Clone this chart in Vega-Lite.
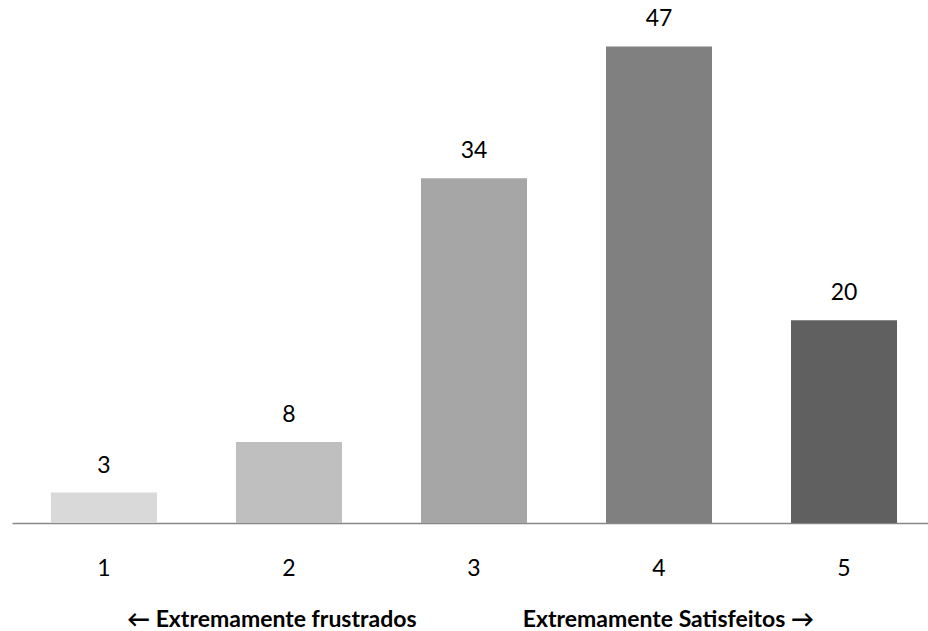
{
  "$schema": "https://vega.github.io/schema/vega-lite/v6.json",
  "autosize": "none",
  "width": 916,
  "height": 507,
  "padding": {"left": 12, "top": 16, "right": 0, "bottom": 108},
  "background": "white",
  "config": {
    "view": {"stroke": null},
    "font": "Lato"
  },
  "data": {
    "values": [
      {"nota": "1", "respostas": 3},
      {"nota": "2", "respostas": 8},
      {"nota": "3", "respostas": 34},
      {"nota": "4", "respostas": 47},
      {"nota": "5", "respostas": 20}
    ]
  },
  "encoding": {
    "x": {
      "field": "nota",
      "type": "nominal",
      "sort": null,
      "scale": {"paddingInner": 0.427, "paddingOuter": 0.189, "align": 0.557},
      "axis": {
        "title": "← Extremamente frustrados\u00a0\u00a0\u00a0\u00a0\u00a0\u00a0\u00a0\u00a0\u00a0\u00a0\u00a0\u00a0\u00a0\u00a0\u00a0\u00a0\u00a0\u00a0\u00a0Extremamente Satisfeitos →",
        "titleFont": "Lato",
        "titleFontSize": 23,
        "titleFontWeight": "bold",
        "titleColor": "#000000",
        "titlePadding": 28,
        "labelAngle": 0,
        "labelFont": "Lato",
        "labelFontSize": 23,
        "labelColor": "#000000",
        "labelPadding": 34,
        "ticks": false,
        "domainColor": "#888888",
        "domainWidth": 1.3
      }
    },
    "y": {
      "field": "respostas",
      "type": "quantitative",
      "scale": {"domain": [0, 50], "nice": false},
      "axis": null
    }
  },
  "layer": [
    {
      "mark": {"type": "bar"},
      "encoding": {
        "color": {
          "field": "nota",
          "type": "nominal",
          "scale": {"domain": ["1", "2", "3", "4", "5"], "range": ["#d9d9d9", "#bfbfbf", "#a6a6a6", "#808080", "#606060"]},
          "legend": null
        }
      }
    },
    {
      "mark": {"type": "text", "baseline": "bottom", "dy": -15, "fontSize": 23, "font": "Lato", "color": "#000000"},
      "encoding": {
        "text": {"field": "respostas", "type": "quantitative"}
      }
    }
  ]
}
